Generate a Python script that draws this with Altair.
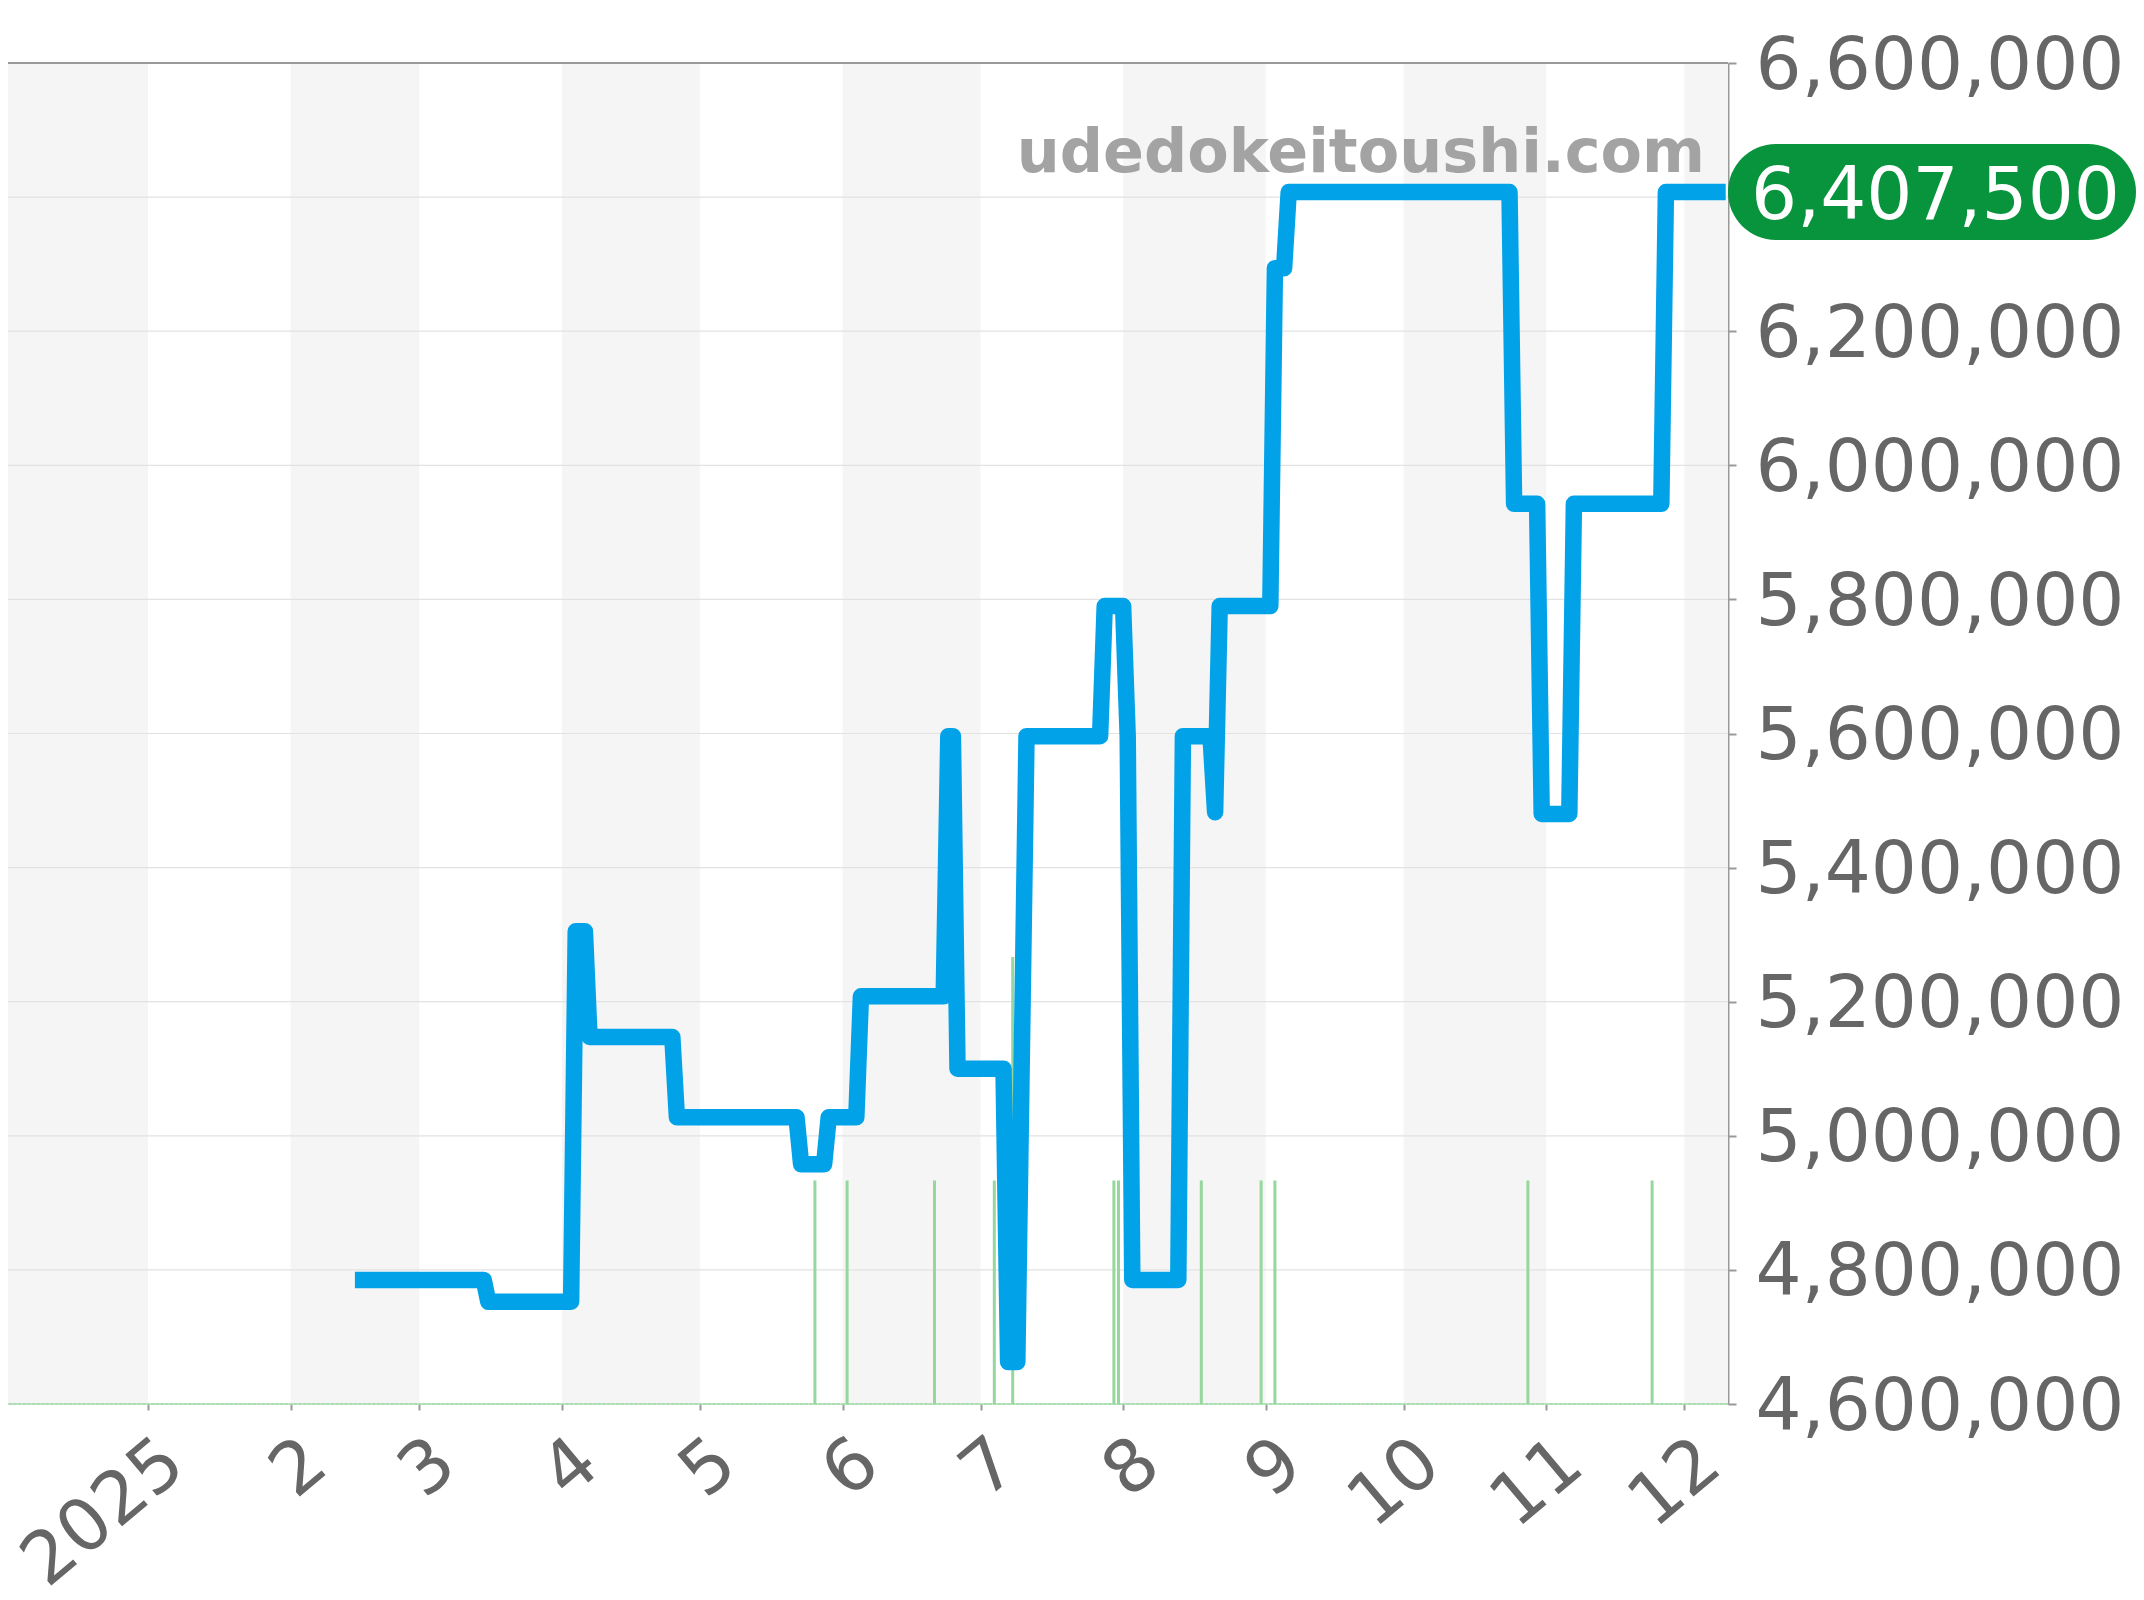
import altair as alt
import pandas as pd

price_dates = ["02-15","03-15","03-16","04-03","04-04","04-06","04-07","04-25","04-26","05-22","05-23","05-28","05-29",
               "06-04","06-05","06-23","06-24","06-25","06-26","07-06","07-07","07-09","07-11","07-27","07-28","08-01",
               "08-02","08-03","08-13","08-14","08-20","08-21","08-22","09-02","09-03","09-05","09-06","10-24","10-25",
               "10-30","10-31","11-06","11-07","11-26","11-27","12-10"]
price_values = [4785000,4785000,4752500,4752500,5305000,5305000,5147500,5147500,5027500,5027500,4957500,4957500,5027500,
                5027500,5208000,5208000,5596000,5596000,5100000,5100000,4662500,4662500,5596000,5596000,5790000,5790000,
                5596000,4785000,4785000,5596000,5596000,5482500,5790000,5790000,6294000,6294000,6407500,6407500,5942500,
                5942500,5480000,5480000,5942500,5942500,6407500,6407500]
volume_dates = ["05-26","06-02","06-21","07-04","07-08","07-30","07-31","08-18","08-31","09-03","10-28","11-24"]
volume_values = [1,1,1,1,2,1,1,1,1,1,1,1]
band_starts = ["2024-12-01T14:00:00","2025-02-01T00:00:00","2025-04-01T00:00:00","2025-06-01T00:00:00","2025-08-01T00:00:00","2025-10-01T00:00:00","2025-12-01T00:00:00"]
band_ends = ["2025-01-01T00:00:00","2025-03-01T00:00:00","2025-05-01T00:00:00","2025-07-01T00:00:00","2025-09-01T00:00:00","2025-11-01T00:00:00","2025-12-10T12:00:00"]
y_ticks = [4600000,4800000,5000000,5200000,5400000,5600000,5800000,6000000,6200000,6400000,6600000]
months = list(range(1, 13))
latest = 6407500
site = "udedokeitoushi.com"

FONT = "DejaVu Sans"
SIZE = 72.5
GRAY = "#999999"
TXT = "#666666"
X_DOM = ["2024-12-01T14:00:00", "2025-12-10T12:00:00"]
Y_DOM = [4600000, 6600000]

x_scale = alt.Scale(domain=X_DOM)
y_scale = alt.Scale(domain=Y_DOM, nice=False, zero=False)


def iso(md):
    return f"2025-{md}T00:00:00"


price = pd.DataFrame({"date": [iso(d) for d in price_dates], "price": price_values})
volume = pd.DataFrame({"date": [iso(d) for d in volume_dates], "vol": volume_values})
bands = pd.DataFrame({"a": band_starts, "b": band_ends})
grid = pd.DataFrame({"y": y_ticks})

x_axis = alt.Axis(
    values=[alt.DateTime(year=2025, month=m, date=1) for m in months],
    labelExpr="month(datum.value) == 0 ? '2025' : '' + (month(datum.value) + 1)",
    title=None, grid=False, domain=False, tickSize=6, tickWidth=2, tickColor=GRAY,
    labelFont=FONT, labelFontSize=SIZE, labelColor=TXT, labelAngle=320, labelAlign="right",
    labelBaseline="middle", labelPadding=43, labelOffset=26, labelLimit=0, labelOverlap=False,
    labelBound=False, labelFlush=False,
)
y_axis = alt.Axis(
    values=y_ticks, labelExpr="format(datum.value, ',')", orient="right", title=None, grid=False,
    domain=True, domainColor=GRAY, domainWidth=2, tickSize=8, tickWidth=2, tickColor=GRAY,
    labelFont=FONT, labelFontSize=SIZE, labelColor=TXT, labelPadding=19, labelOffset=3, labelLimit=0,
    labelOverlap=False, labelBound=False, labelFlush=False,
)

X = lambda f: alt.X(f, scale=x_scale, axis=x_axis)
Y = lambda f: alt.Y(f, scale=y_scale, axis=y_axis)

band_layer = alt.Chart(bands).mark_rect(color="#f5f5f5").encode(x=X("a:T"), x2="b:T")

grid_layer = alt.Chart(grid).mark_rule(color="#e2e2e2", strokeWidth=1.2).encode(y=Y("y:Q"))

top_line = alt.Chart(pd.DataFrame({"y": [Y_DOM[1]]})).mark_rule(color=GRAY, strokeWidth=2).encode(y=Y("y:Q"))

base_solid = alt.Chart(pd.DataFrame({"y": [Y_DOM[0]]})).mark_rule(color="#b5e3bb", strokeWidth=1).encode(y=Y("y:Q"))

base_dash = alt.Chart(pd.DataFrame({"y": [Y_DOM[0]]})).mark_rule(
    color="#a9dfb0", strokeWidth=2, strokeDash=[3.6, 1]
).encode(y=Y("y:Q"))

vol_layer = alt.Chart(volume).transform_calculate(
    top=f"{Y_DOM[0]} + datum.vol * {Y_DOM[1] - Y_DOM[0]} / 6", base=f"{Y_DOM[0]}"
).mark_rule(color="#95d79c", strokeWidth=3).encode(
    x=X("date:T"),
    y=Y("top:Q"),
    y2="base:Q",
)

line_layer = alt.Chart(price).mark_line(color="#02a2e9", strokeWidth=16.5, strokeJoin="round", strokeCap="butt").encode(
    x=X("date:T"),
    y=Y("price:Q"),
)

mark_layer = alt.Chart(pd.DataFrame({"d": ["2025-12-05T12:00:00"], "y": [6437000], "t": [site]})).mark_text(
    font=FONT, fontWeight="bold", fontSize=60.4, color="#a3a3a3", align="right", baseline="alphabetic"
).encode(
    x=X("d:T"),
    y=Y("y:Q"),
    text="t:N",
)

badge = alt.Chart(pd.DataFrame({"lo": [latest - 71600], "hi": [latest + 71600]})).mark_rect(
    color="#08933d", cornerRadius=48
).encode(
    x=alt.value(1720), x2=alt.value(2128),
    y=Y("hi:Q"), y2="lo:Q",
)

badge_text = alt.Chart(pd.DataFrame({"v": [latest]})).mark_text(
    font=FONT, fontSize=SIZE, color="#ffffff", align="left", baseline="middle", dy=5
).encode(
    x=alt.value(1743),
    y=Y("v:Q"),
    text=alt.Text("v:Q", format=","),
)

chart = alt.layer(
    band_layer, grid_layer, top_line, base_solid, base_dash, vol_layer, line_layer, mark_layer, badge, badge_text
).properties(
    width=1720, height=1341,
    padding={"left": 0, "top": 55, "right": 408, "bottom": 188},
    autosize=alt.AutoSizeParams(type="none"),
).configure_view(stroke=None).configure(background="#ffffff")

chart.save("out.html", embed_options={"renderer": "svg", "actions": False})
